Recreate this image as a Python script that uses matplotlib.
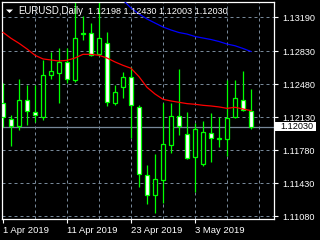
import matplotlib
matplotlib.use("Agg")
import matplotlib.pyplot as plt
from matplotlib.patches import Polygon, Rectangle
import pandas as pd

# EURUSD daily candles, 1 Apr 2019 - 14 May 2019
dates = pd.bdate_range("2019-04-01", "2019-05-14")
opens = [1.12278, 1.12109, 1.12038, 1.12314, 1.12187, 1.12130, 1.12582, 1.12604,
         1.12717, 1.12522, 1.13028, 1.13021, 1.12798, 1.12915, 1.12286, 1.12448,
         1.12561, 1.12243, 1.11522, 1.11306, 1.11462, 1.11837, 1.12141, 1.11950,
         1.11706, 1.11635, 1.11960, 1.11900, 1.11897, 1.12130, 1.12314, 1.12198]
highs = [1.12491, 1.12155, 1.12533, 1.12473, 1.12473, 1.12738, 1.12826, 1.12869,
         1.12862, 1.13360, 1.13205, 1.13127, 1.13360, 1.13035, 1.12473, 1.12614,
         1.12667, 1.12257, 1.11624, 1.11738, 1.12278, 1.12278, 1.12643, 1.12183,
         1.12066, 1.12091, 1.12172, 1.12130, 1.12526, 1.12526, 1.12621, 1.12430]
lows = [1.12031, 1.11830, 1.11996, 1.12049, 1.12084, 1.12102, 1.12537, 1.12286,
        1.12491, 1.12508, 1.12950, 1.12784, 1.12784, 1.12250, 1.12261, 1.12339,
        1.11914, 1.11395, 1.11211, 1.11112, 1.11218, 1.11748, 1.11943, 1.11685,
        1.11342, 1.11617, 1.11660, 1.11819, 1.11723, 1.12123, 1.12197, 1.12003]
closes = [1.12130, 1.12038, 1.12314, 1.12194, 1.12158, 1.12575, 1.12621, 1.12720,
          1.12533, 1.12968, 1.13014, 1.12791, 1.12968, 1.12289, 1.12395, 1.12561,
          1.12261, 1.11529, 1.11306, 1.11472, 1.11844, 1.12141, 1.12038, 1.11695,
          1.12003, 1.11978, 1.11907, 1.11911, 1.12119, 1.12331, 1.12208, 1.12030]

ma_red = [1.13031, 1.12968, 1.12915, 1.12855, 1.12788, 1.12749, 1.12738, 1.12727,
          1.12734, 1.12759, 1.12798, 1.12798, 1.12788, 1.12759, 1.12717, 1.12681,
          1.12650, 1.12561, 1.12448, 1.12377, 1.12321, 1.12303, 1.12289, 1.12275,
          1.12268, 1.12257, 1.12250, 1.12240, 1.12225, 1.12236, 1.12218, 1.12201]
ma_blue_start = 12
ma_blue = [1.13629, 1.13544, 1.13459, 1.13374, 1.13289, 1.13226, 1.13173, 1.13130,
           1.13088, 1.13056, 1.13029, 1.13013, 1.12987, 1.12971, 1.12955, 1.12934,
           1.12907, 1.12889, 1.12860, 1.12828]

price_ticks = [1.13190, 1.12830, 1.12480, 1.12130, 1.11780, 1.11430, 1.11080]
last_price = 1.12030
header_prices = "1.12198 1.12430 1.12003 1.12030"

green = "#00ff00"
grid_c = "#778899"
font = "Liberation Sans"

fig = plt.figure(figsize=(3.2, 2.4), dpi=100, facecolor="black")
ax = fig.add_axes([2 / 320, 21 / 240, 272 / 320, 217 / 240], facecolor="black")

x = list(range(len(dates)))

# grid
for p in price_ticks:
    ax.axhline(p, color=grid_c, lw=0.72, ls=(0, (3, 3)), zorder=0)
for k in range(4, 33, 4):
    ax.axvline(k, color=grid_c, lw=0.72, ls=(0, (3, 3)), zorder=0)
ax.axhline(last_price, color=grid_c, lw=0.9, zorder=1)

# candles
ax.vlines(x, lows, highs, color=green, lw=0.9, zorder=2)
for i in x:
    o, c = opens[i], closes[i]
    fill = "white" if c < o else "black"
    h = max(abs(c - o), 0.00002)
    ax.bar(i, h, bottom=min(o, c), width=0.5, color=fill,
           edgecolor=green, linewidth=0.9, zorder=3)

ax.plot(x, ma_red, color="#ff0000", lw=0.9, zorder=4)
ax.plot(range(ma_blue_start, ma_blue_start + len(ma_blue)), ma_blue,
        color="#0000ff", lw=0.9, zorder=4)

ax.set_xlim(-0.125, 33.875)
ax.set_ylim(1.11051, 1.13353)

for s in ax.spines.values():
    s.set_color("white")
    s.set_linewidth(0.9)

ax.yaxis.tick_right()
ax.set_yticks(price_ticks)
ax.set_yticklabels([f"{p:.5f}" for p in price_ticks])
ax.tick_params(axis="y", colors="white", length=3, width=0.8, pad=3,
               labelsize=6.6)
ax.set_xticks([0, 8, 16, 24])
ax.set_xticklabels([dates[k].strftime("%-d %b %Y") for k in [0, 8, 16, 24]],
                   ha="left")
ax.tick_params(axis="x", colors="white", length=3, width=0.8, pad=2,
               labelsize=6.8)
for t in ax.get_xticklabels() + ax.get_yticklabels():
    t.set_fontfamily(font)

# current price label
fig.patches.append(Rectangle((275 / 320, 1 - 130.5 / 240), 41 / 320, 8.5 / 240,
                             transform=fig.transFigure, facecolor="white",
                             edgecolor="none", zorder=5))
fig.text(280 / 320, 1 - 126.3 / 240, f"{last_price:.5f}", color="black",
         fontsize=6.6, family=font, va="center", ha="left", zorder=6)

# header
fig.patches.append(Polygon([(6 / 320, 1 - 9.5 / 240), (13 / 320, 1 - 9.5 / 240),
                            (9.5 / 320, 1 - 13 / 240)], closed=True,
                           transform=fig.transFigure, facecolor="white",
                           edgecolor="none"))
fig.text(18 / 320, 1 - 14 / 240, "EURUSD,Daily", color="white", fontsize=6.9,
         family=font, va="baseline")
fig.text(88 / 320, 1 - 14 / 240, header_prices, color="white", fontsize=6.6,
         family=font, va="baseline")

fig.savefig("out.png", dpi=100, facecolor="black")
